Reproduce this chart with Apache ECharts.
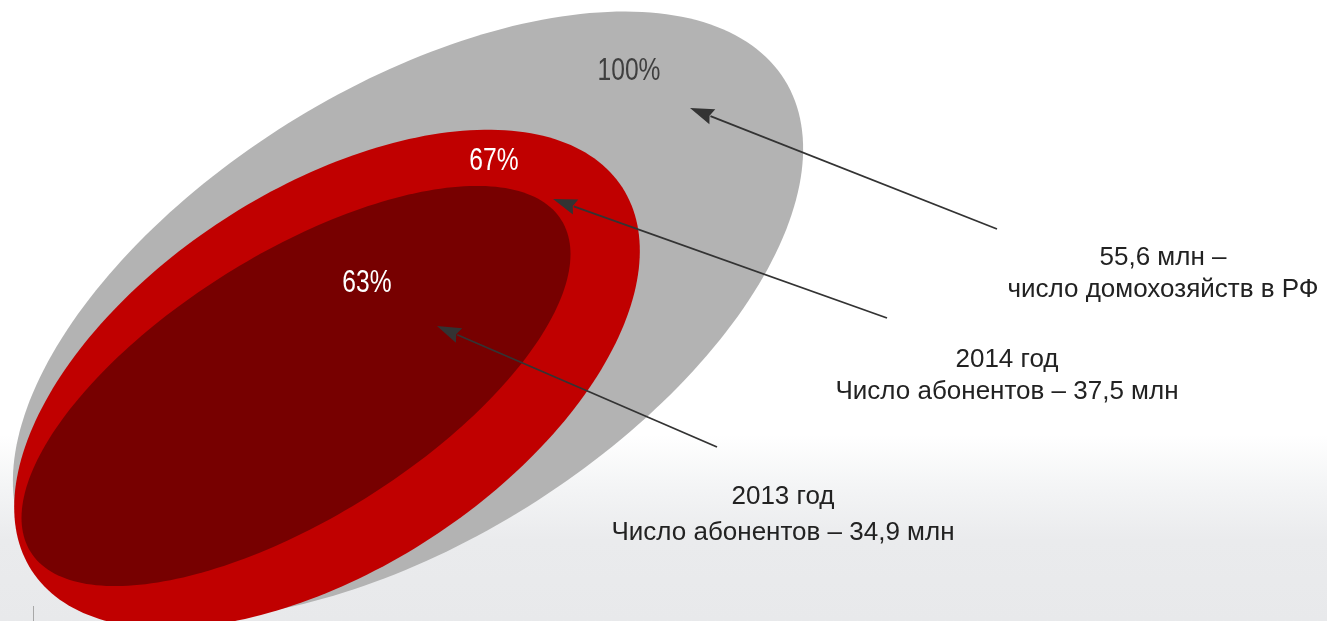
<!DOCTYPE html>
<html>
<head>
<meta charset="utf-8">
<title>Число абонентов</title>
<script src="https://cdn.jsdelivr.net/npm/echarts@6/dist/echarts.min.js"></script>
<style>
html, body {
  margin: 0;
  padding: 0;
  width: 100%;
  height: 100%;
  overflow: hidden;
  background: linear-gradient(to bottom, #ffffff 0%, #ffffff 70%, #f4f5f6 78%, #eaebed 87%, #e8e9eb 100%);
}
#chart { width: 1327px; height: 621px; }
</style>
</head>
<body>
<div id="chart"></div>
<script>
// data
const groups = ['Домохозяйства в РФ', '2014 год', '2013 год']
const shares = [100, 67, 63]
const millions = [55.6, 37.5, 34.9]

const fmt = v => v.toFixed(1).replace('.', ',')
const shareLabels = shares.map(v => v + '%')
const captions = [
  [fmt(millions[0]) + ' млн –', 'число домохозяйств в РФ'],
  [groups[1], 'Число абонентов – ' + fmt(millions[1]) + ' млн'],
  [groups[2], 'Число абонентов – ' + fmt(millions[2]) + ' млн']
]

// layout in axis units (axes run 0..1327 / 0..621)
const ovals = [
  { cx: 408, cy: 315, a: 444, b: 226, angle: 32, color: '#b3b3b3', label: [629, 71], labelColor: '#3f3f3f' },
  { cx: 327, cy: 379, a: 352, b: 190, angle: 33, color: '#c00000', label: [494, 161], labelColor: '#ffffff' },
  { cx: 296, cy: 386, a: 313, b: 132, angle: 32, color: '#770000', label: [367, 283], labelColor: '#ffffff' }
]
const arrows = [
  { from: [997, 229], to: [690, 108], text: [1163, 258, 290] },
  { from: [887, 318], to: [553, 199], text: [1007, 360, 392] },
  { from: [717, 447], to: [437, 326], text: [783, 497, 533] }
]

// percent labels are set in a condensed face: regular face squeezed horizontally
const pctFont = '32px "Liberation Sans", Arial, sans-serif'
const pctSqueeze = 0.77
const capFont = '26px "Liberation Sans", Arial, sans-serif'

const renderOval = (params, api) => {
  const i = params.dataIndex
  const o = ovals[i]
  const r = o.angle * Math.PI / 180
  const pts = []
  for (let k = 0; k < 240; k++) {
    const t = k / 240 * Math.PI * 2
    const x = o.cx + o.a * Math.cos(r) * Math.cos(t) - o.b * Math.sin(r) * Math.sin(t)
    const y = o.cy - (o.a * Math.sin(r) * Math.cos(t) + o.b * Math.cos(r) * Math.sin(t))
    pts.push(api.coord([x, y]))
  }
  const lp = api.coord(o.label)
  return {
    type: 'group',
    children: [
      { type: 'polygon', z2: i * 10, shape: { points: pts }, style: { fill: o.color } },
      {
        type: 'text', z2: i * 10 + 5,
        x: lp[0], y: lp[1], scaleX: pctSqueeze, scaleY: 1,
        style: { text: shareLabels[i], x: 0, y: 0, fill: o.labelColor, font: pctFont, align: 'center', verticalAlign: 'middle' }
      }
    ]
  }
}

const renderArrow = (params, api) => {
  const i = params.dataIndex
  const ar = arrows[i]
  const p0 = api.coord(ar.from)
  const p1 = api.coord(ar.to)
  const dx = p1[0] - p0[0]
  const dy = p1[1] - p0[1]
  const len = Math.sqrt(dx * dx + dy * dy)
  const ux = dx / len
  const uy = dy / len
  const headLen = 24
  const headW = 8
  const bx = p1[0] - ux * headLen
  const by = p1[1] - uy * headLen
  const t = ar.text
  const l1 = api.coord([t[0], t[1]])
  const l2 = api.coord([t[0], t[2]])
  return {
    type: 'group',
    children: [
      { type: 'line', shape: { x1: p0[0], y1: p0[1], x2: bx + ux * 2, y2: by + uy * 2 }, style: { stroke: '#333333', lineWidth: 1.8 } },
      {
        type: 'polygon',
        shape: { points: [p1, [bx - uy * headW, by + ux * headW], [bx + ux * 3, by + uy * 3], [bx + uy * headW, by - ux * headW]] },
        style: { fill: '#333333' }
      },
      { type: 'text', style: { text: captions[i][0], x: l1[0], y: l1[1], fill: '#222222', font: capFont, align: 'center', verticalAlign: 'middle' } },
      { type: 'text', style: { text: captions[i][1], x: l2[0], y: l2[1], fill: '#222222', font: capFont, align: 'center', verticalAlign: 'middle' } }
    ]
  }
}

const chart = echarts.init(document.getElementById('chart'))
chart.setOption({
  backgroundColor: 'transparent',
  animation: false,
  grid: { left: 0, right: 0, top: 0, bottom: 0 },
  xAxis: { type: 'value', min: 0, max: 1327, show: false },
  yAxis: { type: 'value', min: 0, max: 621, inverse: true, show: false },
  graphic: [
    { type: 'line', shape: { x1: 33.5, y1: 606, x2: 33.5, y2: 621 }, style: { stroke: '#a8a8a8', lineWidth: 1 } }
  ],
  series: [
    {
      name: 'Доля',
      type: 'custom',
      renderItem: renderOval,
      data: shares.map((v, i) => [i, v]),
      z: 2
    },
    {
      name: 'Подписи',
      type: 'custom',
      renderItem: renderArrow,
      data: millions.map((v, i) => [i, v]),
      z: 3
    }
  ]
})
window.addEventListener('resize', () => chart.resize())
</script>
</body>
</html>
